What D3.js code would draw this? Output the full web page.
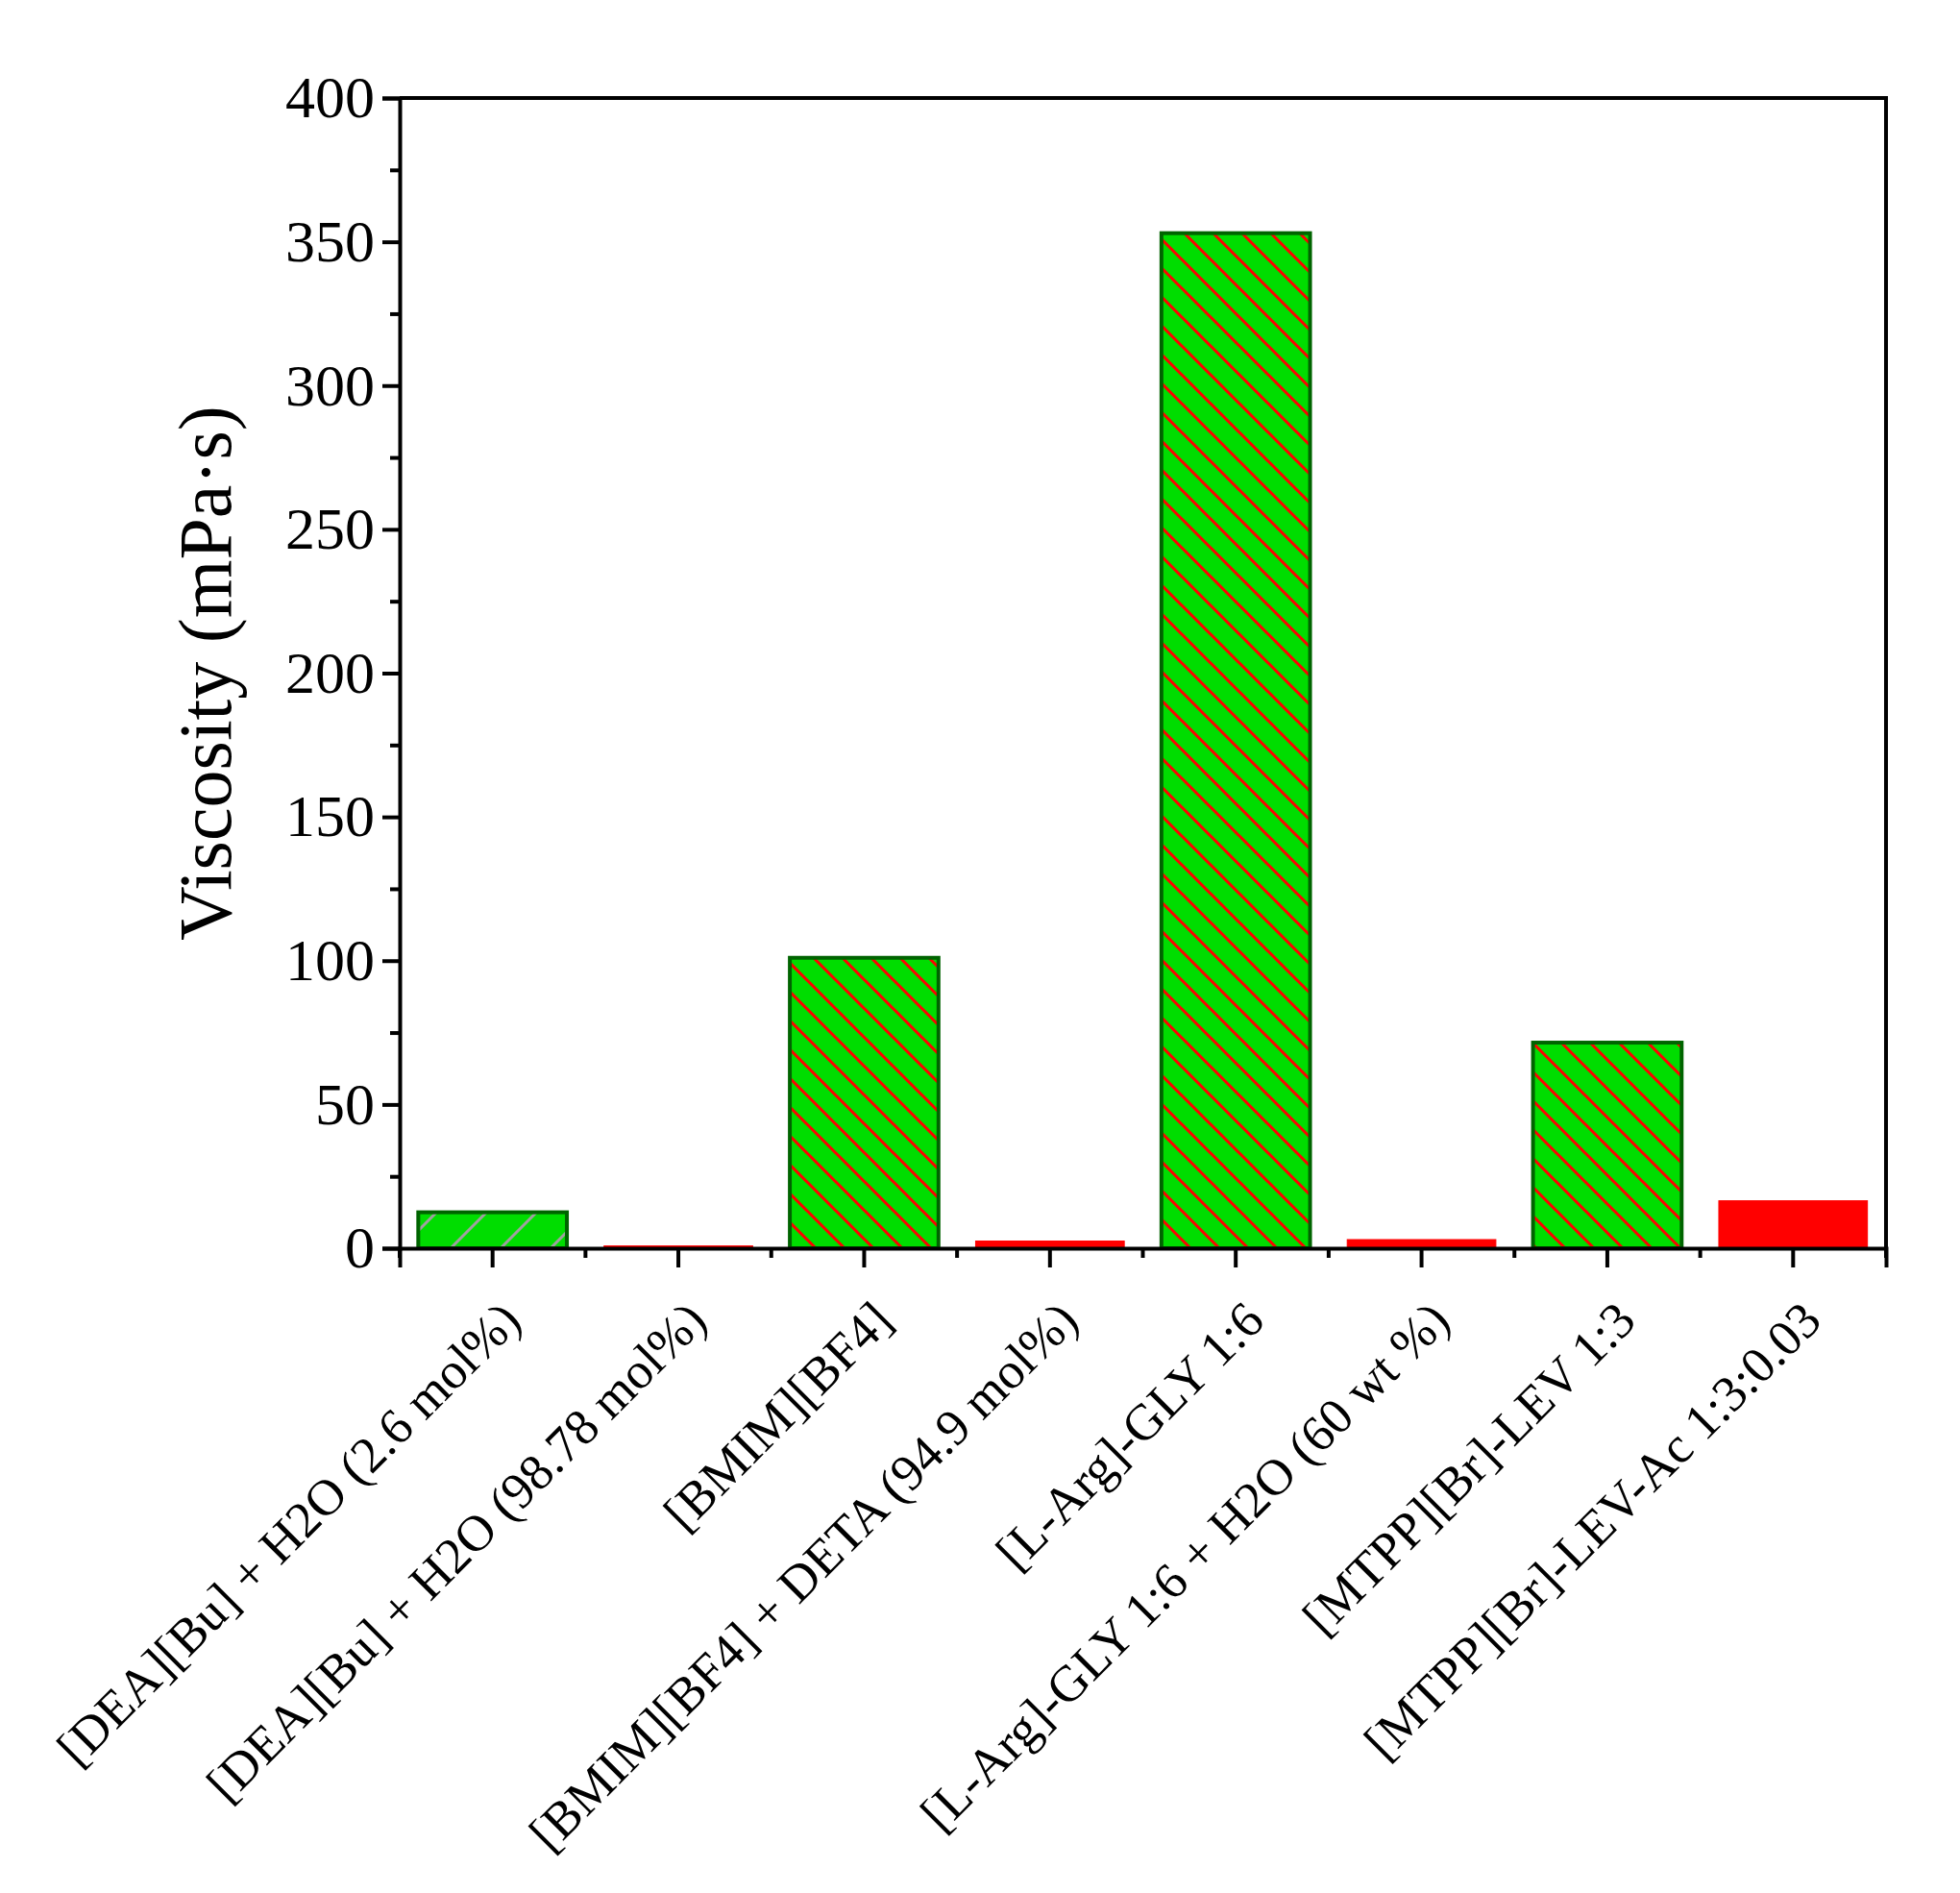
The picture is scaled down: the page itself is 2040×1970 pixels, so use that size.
<!DOCTYPE html>
<html><head><meta charset="utf-8">
<script src="https://cdn.jsdelivr.net/npm/d3@7"></script>
<style>body{margin:0;background:#fff}</style></head>
<body><svg id="c" width="2040" height="1970"></svg>
<script>
const categories = ["[DEA][Bu] + H2O (2.6 mol%)","[DEA][Bu] + H2O (98.78 mol%)","[BMIM][BF4]","[BMIM][BF4] + DETA (94.9 mol%)","[L-Arg]-GLY 1:6","[L-Arg]-GLY 1:6 + H2O (60 wt %)","[MTPP][Br]-LEV 1:3","[MTPP][Br]-LEV-Ac 1:3:0.03"];
const values = [12.5, 0.8, 101, 2.5, 353, 3, 71.5, 16.5];
const kinds = ["gray","red","hatch","red","hatch","red","hatch","red"];
const yTicks = [0,50,100,150,200,250,300,350,400];

const svg = d3.select("#c");
const L=416,R=1963,T=102,B=1299;
const font = "'Liberation Serif','DejaVu Serif',serif";
const x = d3.scaleBand().domain(categories).range([L,R]).paddingInner(0.2).paddingOuter(0.1);
const y = d3.scaleLinear().domain([0,400]).range([B,T]);

const defs = svg.append("defs");
const p = defs.append("pattern").attr("id","hr").attr("patternUnits","userSpaceOnUse").attr("width",30).attr("height",30);
p.append("rect").attr("width",30).attr("height",30).attr("fill","#00dd00");
p.append("path").attr("d","M-5,25 L5,35 M0,0 L30,30 M25,-5 L35,5").attr("stroke","#ff0000").attr("stroke-width",3);
defs.append("pattern").attr("id","hg").attr("patternUnits","userSpaceOnUse").attr("width",52).attr("height",52)
  .call(p=>{p.append("rect").attr("width",52).attr("height",52).attr("fill","#00dd00");
    p.append("path").attr("d","M-5,5 L5,-5 M0,52 L52,0 M47,57 L57,47").attr("stroke","#a0a0a0").attr("stroke-width",3);});

categories.forEach((c,i)=>{
  const k=kinds[i];
  svg.append("rect").attr("x",x(c)).attr("width",x.bandwidth())
    .attr("y",y(values[i])).attr("height",B-y(values[i]))
    .attr("fill", k==="red"?"#ff0000":(k==="gray"?"url(#hg)":"url(#hr)"))
    .attr("stroke", k==="red"?"#ff0000":"#006400").attr("stroke-width",k==="red"?1:4);
});

svg.append("path").attr("d",`M${L},${T} H${R} V${B}`).attr("fill","none").attr("stroke","#000").attr("stroke-width",4);

const ya = svg.append("g").attr("transform",`translate(${L},0)`)
  .call(d3.axisLeft(y).tickValues(yTicks).tickSize(18).tickPadding(8));
svg.append("g").attr("transform",`translate(${L},0)`)
  .call(d3.axisLeft(y).tickValues(d3.range(25,400,50)).tickSize(10).tickFormat(""))
  .call(g=>g.select(".domain").remove());
svg.append("g").attr("transform",`translate(0,${B})`)
  .call(d3.axisBottom(x).tickSize(20).tickFormat(""));
const bounds = d3.range(0,9).map(i=>L+i*(R-L)/8);
svg.append("g").selectAll("line").data(bounds).join("line")
  .attr("x1",d=>d).attr("x2",d=>d).attr("y1",B).attr("y2",B+10).attr("stroke","#000").attr("stroke-width",4);
svg.selectAll(".domain,.tick line").attr("stroke","#000").attr("stroke-width",4);
ya.selectAll("text").attr("font-family",font).attr("font-size",62).attr("fill","#000");

svg.append("g").selectAll("text").data(categories).join("text")
  .attr("transform",d=>`translate(${x(d)+x.bandwidth()/2+32},${B+78}) rotate(-45)`)
  .attr("text-anchor","end").attr("font-family",font).attr("font-size",53).text(d=>d);

svg.append("text").attr("transform",`translate(240,${(T+B)/2}) rotate(-90)`)
  .attr("text-anchor","middle").attr("font-family",font).attr("font-size",78).text("Viscosity (mPa·s)");
</script></body></html>
